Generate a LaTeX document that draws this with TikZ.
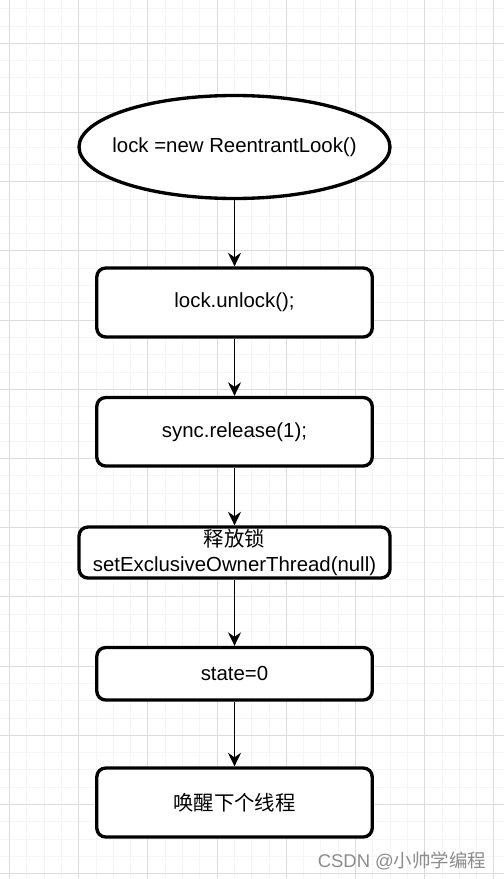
\documentclass[tikz,border=0pt]{standalone}
\usepackage{fontspec}
\setmainfont{Liberation Sans}
\newfontfamily\cjk{Noto Sans CJK SC}
\usetikzlibrary{shapes.geometric,arrows.meta}
\definecolor{minorline}{RGB}{245,245,245}
\definecolor{majorline}{RGB}{220,220,220}
\definecolor{markgray}{RGB}{140,140,140}
\tikzset{
  startnode/.style={ellipse,draw=black,fill=white,line width=1.9pt,inner xsep=-0.6cm,inner ysep=0pt,
    minimum width=6.22cm,minimum height=2.06cm,font=\fontsize{11.6}{14.2}\selectfont},
  stepbox/.style={rectangle,rounded corners=0.18cm,draw=black,fill=white,line width=1.9pt,
    inner sep=0pt,minimum width=5.51cm,minimum height=1.38cm,align=center,
    font=\fontsize{11.6}{14.2}\selectfont},
  flow/.style={-{Stealth[length=2.7mm,width=2.6mm,inset=0.9mm]},line width=1.1pt}
}

\begin{document}
\begin{tikzpicture}
  \useasboundingbox (0,0) rectangle (10.08,-17.58);
  \begin{scope}
    \clip (0,0) rectangle (10.08,-17.58);
    \fill[white] (0,0) rectangle (10.08,-17.58);
    \draw[minorline,line width=0.5pt,step=0.346,shift={(0.19,-0.174)}] (-1,1) grid (11,-19);
    \draw[majorline,line width=0.5pt,step=1.384,shift={(0.19,-0.866)}] (-2,2) grid (11,-19);
  \end{scope}
  \node[startnode] (start) at (4.69,-2.94) {lock =new ReentrantLook()};
  \node[stepbox] (unlock) at (4.69,-6.05) {lock.unlock();};
  \node[stepbox,minimum height=1.37cm] (release) at (4.69,-8.635) {sync.release(1);};
  \node[stepbox,minimum width=6.22cm,minimum height=1.02cm] (owner) at (4.69,-11.05)
    {{\cjk 释放锁}\\setExclusiveOwnerThread(null)};
  \node[stepbox,minimum height=1.05cm] (state) at (4.69,-13.475) {state=0};
  \node[stepbox] (wake) at (4.69,-16.05) {{\cjk 唤醒下个线程}};
  \draw[flow] (start) -- (unlock);
  \draw[flow] (unlock) -- (release);
  \draw[flow] (release) -- (owner);
  \draw[flow] (owner) -- (state);
  \draw[flow] (state) -- (wake);
  \node[markgray,font=\fontsize{10.5}{12}\selectfont] (mark) at (8.04,-17.22) {CSDN @{\cjk 小帅学编程}};
\end{tikzpicture}
\end{document}
